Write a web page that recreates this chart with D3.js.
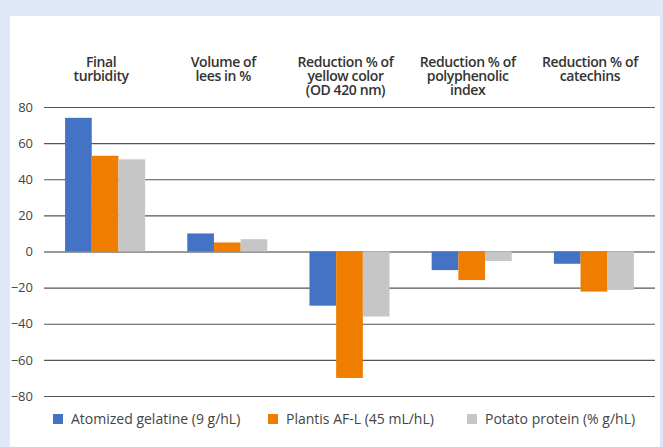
<!DOCTYPE html>
<html>
<head>
<meta charset="utf-8">
<script src="https://cdnjs.cloudflare.com/ajax/libs/d3/7.8.5/d3.min.js"></script>
<style>
  body { margin: 0; background: #dfe8f6; }
  svg { display: block; }
</style>
</head>
<body>
<div id="chart"></div>
<script>
var categories = [
    ["Final", "turbidity"],
    ["Volume of", "lees in %"],
    ["Reduction % of", "yellow color", "(OD 420 nm)"],
    ["Reduction % of", "polyphenolic", "index"],
    ["Reduction % of", "catechins"]
];
var seriesNames = ["Atomized gelatine (9 g/hL)", "Plantis AF-L (45 mL/hL)", "Potato protein (% g/hL)"];
var gelatine = [74, 10, -30, -10.3, -6.8];
var plantis = [53, 5, -70, -15.8, -22.2];
var potato = [51, 6.8, -36, -5.3, -21.3];
var yTicks = [80, 60, 40, 20, 0, -20, -40, -60, -80];
var colors = ["#4472c4", "#ef7d00", "#c6c6c6"];

var W = 663, H = 447;
var margin = {top: 107, right: 8, bottom: 51, left: 44},
    width = 655 - margin.left,
    height = 396 - margin.top;

var svg = d3.select("#chart")
    .append("svg")
    .attr("width", W)
    .attr("height", H);

// white panel
svg.append("rect")
    .attr("x", 10).attr("y", 16)
    .attr("width", 650).attr("height", H - 16)
    .attr("fill", "#ffffff");

var g = svg.append("g")
    .attr("transform", "translate(" + margin.left + "," + margin.top + ")");

var x0 = d3.scaleBand()
    .domain(d3.range(categories.length))
    .range([0, width])
    .paddingInner(0)
    .paddingOuter(0);

// excel style: gap width ~157% of a bar
var x1 = d3.scaleBand()
    .domain(d3.range(seriesNames.length))
    .range([0, x0.bandwidth()])
    .paddingInner(0)
    .paddingOuter(0.79);

var y = d3.scaleLinear()
    .domain([-80, 80])
    .range([height, 0]);

// gridlines + tick labels
var yAxis = g.append("g")
    .call(d3.axisLeft(y).tickValues(yTicks).tickSize(-width).tickPadding(11))
yAxis.select(".domain").remove();
yAxis.selectAll(".tick line")
    .attr("stroke", function(d) { return d === 0 ? "#333" : "#555"; })
    .attr("stroke-width", 1.2);
yAxis.selectAll(".tick text")
    .attr("fill", "#444")
    .style("font-family", "'Open Sans'")
    .style("font-size", "13px");

var data = [gelatine, plantis, potato];

data.forEach(function(vals, s) {
    g.selectAll(".bar" + s)
        .data(vals)
        .enter()
        .append("rect")
        .attr("x", function(d, i) { return x0(i) + x1(s); })
        .attr("y", function(d) { return y(Math.max(0, d)); })
        .attr("width", x1.bandwidth())
        .attr("height", function(d) { return Math.abs(y(d) - y(0)); })
        .attr("fill", colors[s]);
});

// category labels at top
var catLabels = svg.append("g");
categories.forEach(function(lines, i) {
    var cx = margin.left + x0(i) + x0.bandwidth() / 2 - 4;
    var t = catLabels.append("text")
        .attr("x", cx)
        .attr("y", 67)
        .attr("text-anchor", "middle")
        .attr("fill", "#333")
        .style("font-family", "'Open Sans'")
        .style("font-weight", "600")
        .style("font-size", "14px")
        .style("letter-spacing", "-0.4px");
    lines.forEach(function(line, k) {
        t.append("tspan")
            .attr("x", cx)
            .attr("dy", k === 0 ? 0 : 14)
            .text(line);
    });
});

// legend
var legendX = [53, 268, 467];
var legend = svg.append("g");
seriesNames.forEach(function(name, s) {
    legend.append("rect")
        .attr("x", legendX[s]).attr("y", 414)
        .attr("width", 10).attr("height", 10)
        .attr("fill", colors[s]);
    legend.append("text")
        .attr("x", legendX[s] + 18)
        .attr("y", 424)
        .attr("fill", "#444")
        .style("font-family", "'Open Sans'")
        .style("font-size", "14px")
        .text(name);
});
</script>
</body>
</html>
